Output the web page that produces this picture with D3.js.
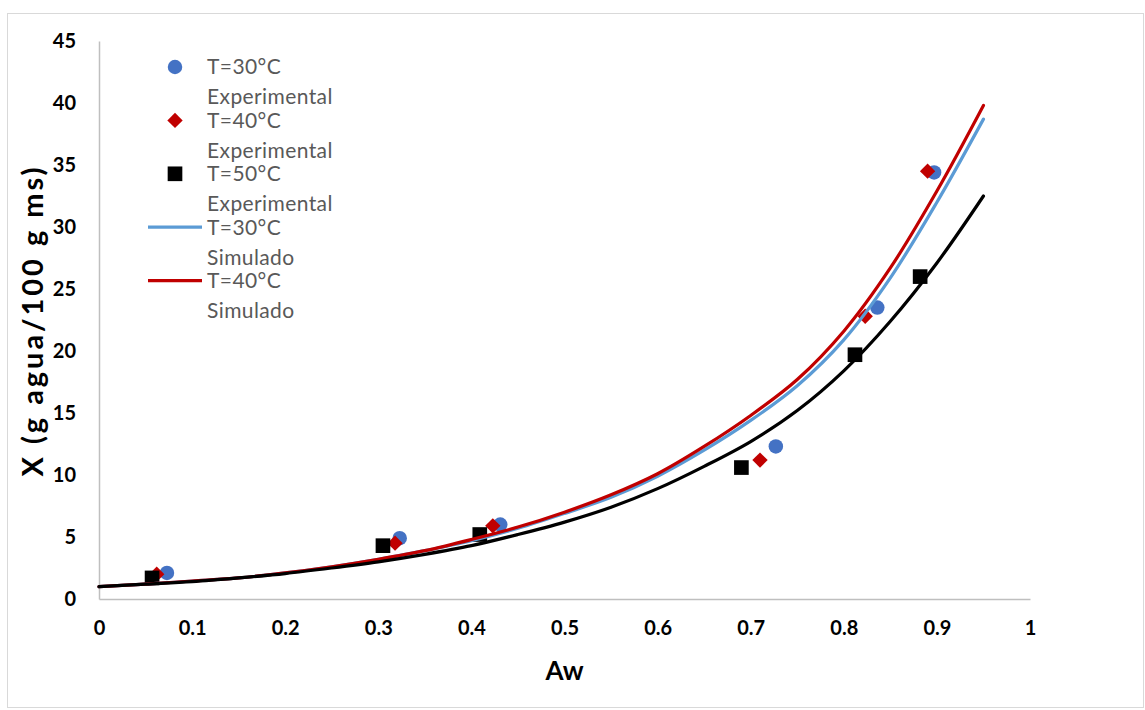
<!DOCTYPE html>
<html>
<head>
<meta charset="utf-8">
<script src="https://cdn.jsdelivr.net/npm/d3@7"></script>
<style>
  body { margin: 0; background: #fff; }
  text { font-family: Lato, "Open Sans", sans-serif; }
</style>
</head>
<body>
<div id="chart"></div>
<script>
// experimental points (Aw, X)
const exp30 = [[0.073, 2.1], [0.323, 4.9], [0.431, 6.0], [0.727, 12.3], [0.836, 23.5], [0.897, 34.4]]
const exp40 = [[0.062, 2.0], [0.318, 4.5], [0.423, 5.9], [0.710, 11.2], [0.823, 22.8], [0.890, 34.5]]
const exp50 = [[0.057, 1.7], [0.305, 4.3], [0.409, 5.2], [0.690, 10.6], [0.812, 19.7], [0.882, 26.0]]

// simulated curves, every 0.05 of Aw
const awGrid = [0, 0.05, 0.1, 0.15, 0.2, 0.25, 0.3, 0.35, 0.4, 0.45, 0.5, 0.55, 0.6, 0.65, 0.7, 0.75, 0.8, 0.85, 0.9, 0.95]
const sim30 = [1.0, 1.2, 1.45, 1.7, 2.1, 2.6, 3.2, 3.9, 4.7, 5.7, 6.9, 8.2, 9.9, 12.0, 14.4, 17.2, 20.9, 25.9, 32.0, 38.7]
const sim40 = [1.0, 1.2, 1.45, 1.7, 2.1, 2.6, 3.2, 3.9, 4.8, 5.8, 7.0, 8.4, 10.1, 12.3, 14.8, 17.7, 21.6, 26.7, 32.9, 39.8]
const sim50 = [1.0, 1.2, 1.4, 1.7, 2.05, 2.5, 3.0, 3.6, 4.3, 5.2, 6.2, 7.4, 8.9, 10.7, 12.7, 15.2, 18.4, 22.4, 27.1, 32.5]

const xTicks = [0, 0.1, 0.2, 0.3, 0.4, 0.5, 0.6, 0.7, 0.8, 0.9, 1]
const yTicks = [0, 5, 10, 15, 20, 25, 30, 35, 40, 45]

const legendItems = [
  {lines: ["T=30°C", "Experimental"], kind: "circle", color: "#4472C4"},
  {lines: ["T=40°C", "Experimental"], kind: "diamond", color: "#C00000"},
  {lines: ["T=50°C", "Experimental"], kind: "square", color: "#000000"},
  {lines: ["T=30°C", "Simulado"], kind: "line", color: "#5B9BD5"},
  {lines: ["T=40°C", "Simulado"], kind: "line", color: "#C00000"}
]

let W = 1145, H = 710,
    m = {left: 99, right: 115, top: 41, bottom: 111}

let svg = d3.select("#chart").append("svg")
    .attr("width", W)
    .attr("height", H)

svg.append("rect")
    .attr("x", 7.5).attr("y", 13.5)
    .attr("width", 1136).attr("height", 694)
    .attr("fill", "#fff")
    .attr("stroke", "#d9d9d9")

let x = d3.scaleLinear().domain([0, 1]).range([m.left, W - m.right])
let y = d3.scaleLinear().domain([0, 45]).range([H - m.bottom, m.top])

// axes
let xAxis = svg.append("g")
    .attr("transform", `translate(0,${y(0)})`)
    .call(d3.axisBottom(x).tickValues(xTicks).tickSize(0).tickPadding(22).tickFormat(d3.format("")))
let yAxis = svg.append("g")
    .attr("transform", `translate(${x(0)},0)`)
    .call(d3.axisLeft(y).tickValues(yTicks).tickSize(0).tickPadding(23))

for (let g of [xAxis, yAxis]) {
  g.select(".domain").attr("stroke", "#bfbfbf").attr("stroke-width", 1.5)
  g.selectAll("text")
    .attr("font-family", "Lato, sans-serif")
    .attr("font-size", 20)
    .attr("font-weight", "bold")
    .attr("fill", "#000")
}

svg.append("text")
    .attr("x", (x(0) + x(1)) / 2).attr("y", 680)
    .attr("text-anchor", "middle")
    .attr("font-size", 26).attr("font-weight", "bold")
    .text("Aw")

svg.append("text")
    .attr("transform", `translate(43,${(y(0) + y(45)) / 2 + 2}) rotate(-90)`)
    .attr("text-anchor", "middle")
    .attr("font-size", 29).attr("font-weight", "bold")
    .attr("textLength", 309).attr("lengthAdjust", "spacing")
    .text("X (g agua/100 g ms)")

// markers
let symbols = {
  circle: d3.symbol().type(d3.symbolCircle).size(165),
  diamond: d3.symbol().type(d3.symbolDiamond2).size(150),
  square: d3.symbol().type(d3.symbolSquare).size(215)
}

let drawPoints = (data, kind, color) => {
  svg.append("g").selectAll("path")
    .data(data)
    .join("path")
    .attr("transform", d => `translate(${x(d[0])},${y(d[1])})`)
    .attr("d", symbols[kind])
    .attr("fill", color)
}
drawPoints(exp30, "circle", "#4472C4")
drawPoints(exp40, "diamond", "#C00000")
drawPoints(exp50, "square", "#000000")

let line = d3.line()
    .x(d => x(d[0]))
    .y(d => y(d[1]))
    .curve(d3.curveCatmullRom)

let drawCurve = (vals, color) => {
  svg.append("path")
    .datum(awGrid.map((a, i) => [a, vals[i]]))
    .attr("d", line)
    .attr("fill", "none")
    .attr("stroke", color)
    .attr("stroke-width", 3.2)
    .attr("stroke-linecap", "round")
}
drawCurve(sim30, "#5B9BD5")
drawCurve(sim40, "#C00000")
drawCurve(sim50, "#000000")

// legend
let legend = svg.append("g").attr("transform", "translate(175,67)")
legendItems.forEach((item, i) => {
  let g = legend.append("g").attr("transform", `translate(0,${i * 53.4})`)
  if (item.kind == "line") {
    g.append("line")
      .attr("x1", -27).attr("x2", 27)
      .attr("stroke", item.color).attr("stroke-width", 3.2)
  } else {
    g.append("path").attr("d", symbols[item.kind]).attr("fill", item.color)
  }
  item.lines.forEach((t, j) => {
    g.append("text")
      .attr("x", 32).attr("y", j * 30)
      .attr("dy", "0.35em")
      .attr("font-size", 21)
      .attr("letter-spacing", 0.4)
      .attr("fill", "#595959")
      .text(t)
  })
})
</script>
</body>
</html>
